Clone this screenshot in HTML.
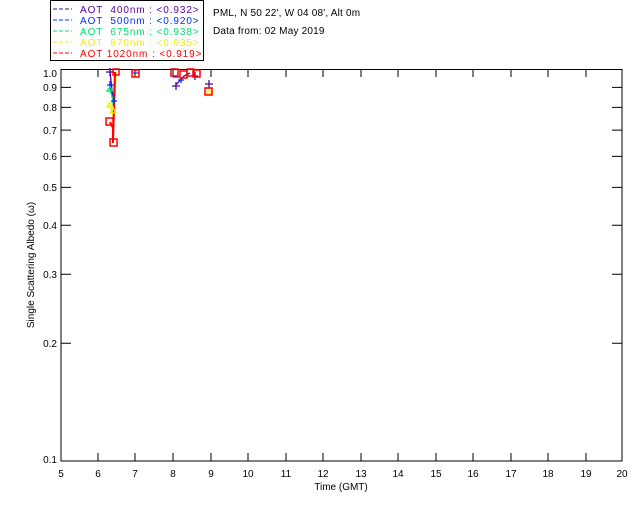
<!DOCTYPE html>
<html><head><style>body{margin:0;background:#fff}svg{display:block}text{font-family:"Liberation Sans",sans-serif;font-size:10px}</style></head><body>
<svg width="640" height="512" xmlns="http://www.w3.org/2000/svg">
<rect width="640" height="512" fill="#fff"/>
<rect x="50.5" y="0.5" width="153" height="60" fill="none" stroke="#000"/>
<g font-size="10" letter-spacing="0.9">
<line x1="53" y1="9" x2="72" y2="9" stroke="#5a00a0" stroke-dasharray="4,2"/><text x="80" y="13" fill="#5a00a0" xml:space="preserve">AOT  400nm : &lt;0.932&gt;</text>
<line x1="53" y1="20" x2="72" y2="20" stroke="#0030ff" stroke-dasharray="4,2"/><text x="80" y="24" fill="#0030ff" xml:space="preserve">AOT  500nm : &lt;0.920&gt;</text>
<line x1="53" y1="31" x2="72" y2="31" stroke="#00e070" stroke-dasharray="4,2"/><text x="80" y="35" fill="#00e070" xml:space="preserve">AOT  675nm : &lt;0.938&gt;</text>
<line x1="53" y1="42" x2="72" y2="42" stroke="#f0f000" stroke-dasharray="4,2"/><text x="80" y="46" fill="#f0f000" xml:space="preserve">AOT  870nm : &lt;0.935&gt;</text>
<line x1="53" y1="53" x2="72" y2="53" stroke="#ff0000" stroke-dasharray="4,2"/><text x="80" y="57" fill="#ff0000" xml:space="preserve">AOT 1020nm : &lt;0.919&gt;</text>
</g>
<text x="213" y="16" letter-spacing="0.2">PML, N 50 22', W 04 08', Alt 0m</text>
<text x="213" y="34" letter-spacing="0.2">Data from: 02 May 2019</text>
<rect x="61" y="69.5" width="561" height="391.5" fill="none" stroke="#000"/>
<g stroke="#000">
<path d="M98,461v-8M135,461v-8M173,461v-8M211,461v-8M248,461v-8M286,461v-8M323,461v-8M361,461v-8M398,461v-8M436,461v-8M473,461v-8M511,461v-8M548,461v-8M586,461v-8
M98,69v8M135,69v8M173,69v8M211,69v8M248,69v8M286,69v8M323,69v8M361,69v8M398,69v8M436,69v8M473,69v8M511,69v8M548,69v8M586,69v8
M61,87.4h10M61,107.4h10M61,130.1h10M61,156.4h10M61,187.4h10M61,225.3h10M61,274.3h10M61,343.2h10
M622,87.4h-10M622,107.4h-10M622,130.1h-10M622,156.4h-10M622,187.4h-10M622,225.3h-10M622,274.3h-10M622,343.2h-10"/>
</g>
<g text-anchor="end">
<text x="57" y="77">1.0</text><text x="57" y="91">0.9</text><text x="57" y="111">0.8</text><text x="57" y="134">0.7</text><text x="57" y="160">0.6</text><text x="57" y="191">0.5</text><text x="57" y="229">0.4</text><text x="57" y="278">0.3</text><text x="57" y="347">0.2</text><text x="57" y="463">0.1</text>
</g>
<g text-anchor="middle">
<text x="61" y="477">5</text><text x="98" y="477">6</text><text x="135" y="477">7</text><text x="173" y="477">8</text><text x="211" y="477">9</text><text x="248" y="477">10</text><text x="286" y="477">11</text><text x="323" y="477">12</text><text x="361" y="477">13</text><text x="398" y="477">14</text><text x="436" y="477">15</text><text x="473" y="477">16</text><text x="511" y="477">17</text><text x="548" y="477">18</text><text x="586" y="477">19</text><text x="622" y="477">20</text>
<text x="341" y="490">Time (GMT)</text>
<text transform="translate(34,265) rotate(-90)">Single Scattering Albedo (ω)</text>
</g>
<g fill="none" stroke-width="1.3">
<path d="M110,72 L112,90 L114,100 L115,72" stroke="#5a00a0"/>
<path d="M110,85 L112,95 L114,110 L115,72" stroke="#0030ff"/>
<path d="M110,90 L113,100 L114,120 L116,72" stroke="#00e070"/>
<path d="M110,105 L112,112 L114,120 L116,72" stroke="#f0f000"/>
<path d="M110,122 L113,128 L113,143 L115,72" stroke="#ff0000" stroke-width="2"/>
<path d="M175,86 L184,76 L190,73" stroke="#5a00a0"/>
<g stroke="#5a00a0"><path d="M106,72h8M110,68v8M172,86h8M176,82v8M205,84h8M209,80v8M192,76h6M195,72v8"/></g>
<g stroke="#0030ff"><path d="M107,85h7M110,81v8M111,101h6M114,98v6M178,80h6M181,77v6M133,73h6M173,77h6M205,88h6"/></g>
<g stroke="#00e070"><path d="M107,91l3,-4l3,4z"/></g>
<g stroke="#f0f000"><path d="M107,107l3,-5l3,5zM110,113l3,-5l3,5zM206,94l3,-5l3,5z"/></g>
<g stroke="#ff0000" stroke-width="1.5"><rect x="106" y="118" width="7" height="7"/><rect x="110" y="139" width="7" height="7"/><rect x="113" y="69" width="6" height="6"/><rect x="132" y="70" width="7" height="7"/><rect x="171" y="69" width="7" height="7"/><rect x="180" y="71" width="7" height="7"/><rect x="187" y="69" width="7" height="7"/><rect x="193" y="70" width="7" height="7"/><rect x="205" y="88" width="7" height="7"/></g>
</g>
</svg>
</body></html>
